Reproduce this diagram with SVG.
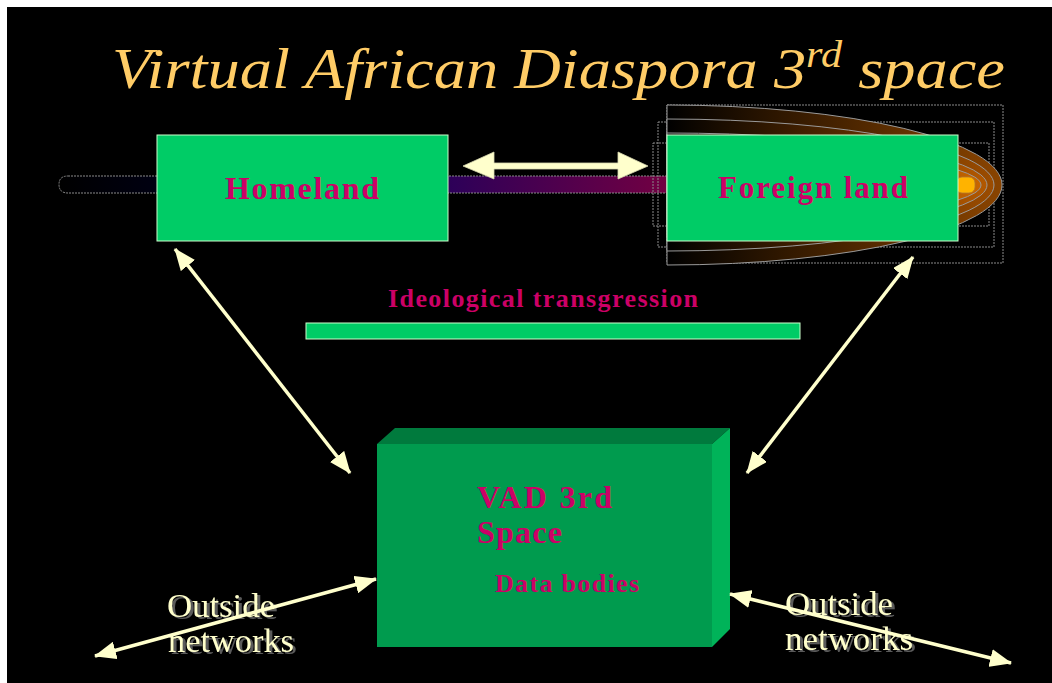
<svg xmlns="http://www.w3.org/2000/svg" width="1052" height="683" viewBox="0 0 1052 683">
<defs>
<style>
.box{fill:#00CC66;stroke:#CCFFCC;stroke-width:1}
.lbl{font-family:"Liberation Serif","Times New Roman",serif;font-weight:bold;fill:#CC0066}
.out{font-family:"Liberation Serif","Times New Roman",serif;font-size:33px;fill:#FFFFCC;filter:url(#shadow)}
.conn{stroke:#FFFFCC;stroke-width:3.5;fill:none;marker-start:url(#ah);marker-end:url(#ah)}
.frame{fill:none;stroke:#8a8a8a;stroke-width:1;stroke-dasharray:2 1}
.glow{stroke:#9a9a9a;stroke-width:1}
</style>
<filter id="shadow" x="-10%" y="-20%" width="130%" height="160%">
<feFlood flood-color="#5a5a5a"/>
<feComposite in2="SourceAlpha" operator="in"/>
<feOffset dx="3" dy="2" result="sh"/>
<feMerge><feMergeNode in="sh"/><feMergeNode in="SourceGraphic"/></feMerge>
</filter>
<marker id="ah" viewBox="0 0 22 18" refX="21" refY="9" markerWidth="22" markerHeight="18" markerUnits="userSpaceOnUse" orient="auto-start-reverse">
<path d="M0,0 L22,9 L0,18 Z" fill="#FFFFCC"/>
</marker>
<linearGradient id="bar" gradientUnits="userSpaceOnUse" x1="59" y1="0" x2="667" y2="0">
<stop offset="0" stop-color="#000000"/>
<stop offset="0.35" stop-color="#000026"/>
<stop offset="0.65" stop-color="#2e0058"/>
<stop offset="1" stop-color="#720042"/>
</linearGradient>
<linearGradient id="g1" gradientUnits="userSpaceOnUse" x1="667" y1="0" x2="1002" y2="0">
<stop offset="0" stop-color="#000000"/><stop offset="1" stop-color="#8A4400"/></linearGradient>
<linearGradient id="g2" gradientUnits="userSpaceOnUse" x1="667" y1="0" x2="994" y2="0">
<stop offset="0" stop-color="#000000"/><stop offset="1" stop-color="#9C4C00"/></linearGradient>
<linearGradient id="g3" gradientUnits="userSpaceOnUse" x1="667" y1="0" x2="987" y2="0">
<stop offset="0" stop-color="#000000"/><stop offset="1" stop-color="#B35800"/></linearGradient>
<linearGradient id="g4" gradientUnits="userSpaceOnUse" x1="667" y1="0" x2="981" y2="0">
<stop offset="0" stop-color="#000000"/><stop offset="1" stop-color="#C86600"/></linearGradient>
</defs>

<rect x="0" y="0" width="1052" height="683" fill="#ffffff"/>
<rect x="7" y="7" width="1045" height="676" fill="#000000"/>

<g id="title">
<text x="112" y="88" font-family="Liberation Serif,'Times New Roman',serif" font-style="italic" font-size="58" fill="#FFCC66" textLength="893" lengthAdjust="spacingAndGlyphs">Virtual African Diaspora 3<tspan dy="-21" font-size="38">rd</tspan><tspan dy="21"> space</tspan></text>
</g>

<g id="glow-bar">
<path d="M68,176 L667,176 L667,193 L68,193 Q59,193 59,184.5 Q59,176 68,176 Z" style="fill:url(#bar);stroke:#8a8a8a;stroke-width:1;stroke-dasharray:2 1"/>
</g>

<g id="comet">
<rect class="frame" x="667" y="105" width="336" height="158"/>
<rect class="frame" x="658" y="122" width="336" height="125"/>
<rect class="frame" x="653" y="143" width="336" height="83"/>
<path class="glow" d="M667,105 A335,80 0 0 1 667,265 Z" fill="url(#g1)"/>
<path class="glow" d="M667,119 A327,66 0 0 1 667,251 Z" fill="url(#g2)"/>
<path class="glow" d="M667,133 A320,52 0 0 1 667,237 Z" fill="url(#g3)"/>
<path class="glow" d="M667,145 A314,40 0 0 1 667,225 Z" fill="url(#g4)"/>
<rect x="956" y="177" width="19" height="16" rx="6" fill="#FFB300" stroke="#b07a30" stroke-width="0.8"/>
</g>

<g id="homeland">
<rect class="box" x="157" y="135" width="291" height="106"/>
<text class="lbl" x="302" y="199" font-size="32" text-anchor="middle" textLength="154" lengthAdjust="spacing">Homeland</text>
</g>

<g id="foreign-land">
<rect class="box" x="667" y="135" width="291" height="106"/>
<text class="lbl" x="813" y="198" font-size="31" text-anchor="middle" textLength="190" lengthAdjust="spacing">Foreign land</text>
</g>

<g id="ideological">
<text class="lbl" x="543" y="307" font-size="26" text-anchor="middle" textLength="310" lengthAdjust="spacing">Ideological transgression</text>
<rect class="box" x="306" y="323" width="494" height="16"/>
</g>

<g id="vad">
<polygon points="377,444 395,428 730,428 712,444" fill="#007A3D"/>
<polygon points="712,444 730,428 730,629 712,647" fill="#00B359"/>
<rect x="377" y="444" width="335" height="203" fill="#009B4E"/>
<text class="lbl" x="477" y="508" font-size="32" textLength="135" lengthAdjust="spacing">VAD 3rd</text>
<text class="lbl" x="477" y="543" font-size="32" textLength="85" lengthAdjust="spacing">Space</text>
<text class="lbl" x="495" y="592" font-size="26" textLength="144" lengthAdjust="spacing">Data bodies</text>
</g>

<g id="outside-left">
<text class="out" x="167" y="617" textLength="108" lengthAdjust="spacingAndGlyphs">Outside</text>
<text class="out" x="168" y="652" textLength="126" lengthAdjust="spacingAndGlyphs">networks</text>
</g>

<g id="outside-right">
<text class="out" x="785" y="615" textLength="108" lengthAdjust="spacingAndGlyphs">Outside</text>
<text class="out" x="785" y="650" textLength="128" lengthAdjust="spacingAndGlyphs">networks</text>
</g>

<g id="connectors">
<path d="M463,166 L494,152 L494,163 L618,163 L618,152 L648,166 L618,179 L618,169 L494,169 L494,179 Z" fill="#FFFFCC" stroke="#d8d8b0" stroke-width="0.8"/>
<line class="conn" x1="175" y1="249" x2="350" y2="473"/>
<line class="conn" x1="913" y1="257" x2="747" y2="473"/>
<line class="conn" x1="95" y1="656" x2="376" y2="579"/>
<line class="conn" x1="730" y1="594" x2="1011" y2="663"/>
</g>
</svg>
